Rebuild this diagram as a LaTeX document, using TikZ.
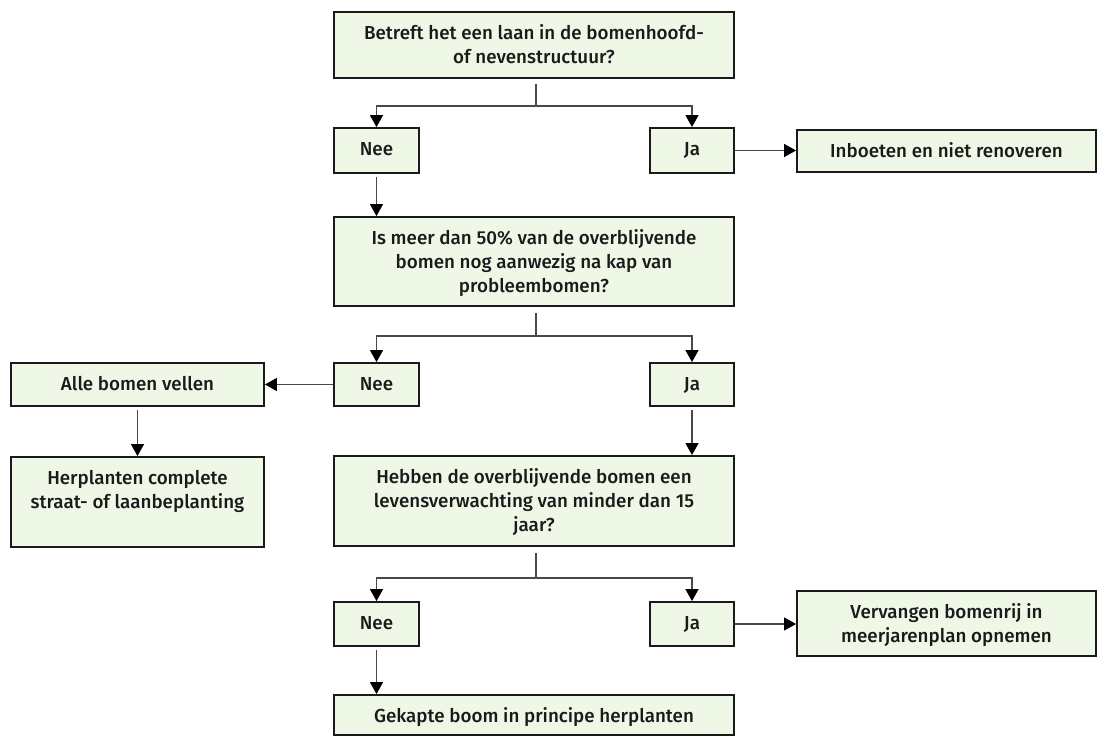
\documentclass[tikz,border=0pt]{standalone}
\usepackage{fontspec}
\setmainfont{Fira Sans}[UprightFont={* Medium}]
\usetikzlibrary{arrows.meta}
\definecolor{boxfill}{HTML}{EFF8E6}
\definecolor{ink}{HTML}{1A1A1A}
\tikzset{
  box/.style={draw=ink, line width=1.8pt, fill=boxfill, inner sep=0pt, text=ink},
  conn/.style={draw=ink!80, line width=1.1pt},
  arr/.style={conn, -{Triangle[length=12pt,width=13pt,color=black]}},
}
\newcommand\mkbox[6]{%
  \node[box] (#1) at ({(#2+#4)/2},{(#3+#5)/2})
    {\parbox[c][\dimexpr#5pt-#3pt\relax][t]{\dimexpr#4pt-#2pt\relax}{\centering
      \fontsize{18.8}{24}\selectfont\rule{0pt}{27pt}#6\par}};}
\begin{document}
\begin{tikzpicture}[x=1pt,y=-1pt]
\useasboundingbox (0,0) rectangle (1098,737);
\mkbox{q1}{334}{12}{734}{78}{Betreft het een laan in de bomenhoofd-\\of nevenstructuur?}
\mkbox{n1}{334}{128}{419}{173}{Nee}
\mkbox{j1}{650}{128}{734}{173}{Ja}
\mkbox{i1}{797}{130}{1096}{172}{Inboeten en niet renoveren}
\mkbox{q2}{334}{217}{734}{306}{Is meer dan 50\% van de overblijvende\\bomen nog aanwezig na kap van\\probleembomen?}
\mkbox{n2}{334}{363}{419}{406}{Nee}
\mkbox{j2}{650}{363}{734}{406}{Ja}
\mkbox{a1}{11}{363}{264}{406}{Alle bomen vellen}
\mkbox{h1}{11}{457}{264}{547}{Herplanten complete\\straat- of laanbeplanting}
\mkbox{q3}{334}{456}{734}{546}{Hebben de overblijvende bomen een\\levensverwachting van minder dan 15\\jaar?}
\mkbox{n3}{334}{602}{419}{646}{Nee}
\mkbox{j3}{650}{602}{734}{646}{Ja}
\mkbox{v1}{797}{591}{1096}{656}{Vervangen bomenrij in\\meerjarenplan opnemen}
\mkbox{g1}{334}{695}{734}{735}{Gekapte boom in principe herplanten}

\coordinate (b1) at (536,106);
\coordinate (b2) at (536,336);
\coordinate (b3) at (536,578);

\draw[conn] (536,84) -- (b1);
\draw[arr] (b1) -| (n1.north);
\draw[arr] (b1) -| (j1.north);
\draw[arr] (j1.east) -- (i1.west |- j1.east);
\draw[arr] ([yshift=-3pt]n1.south) -- (n1.south |- q2.north);

\draw[conn] (536,313) -- (b2);
\draw[arr] (b2) -| (n2.north);
\draw[arr] (b2) -| (j2.north);
\draw[arr] (n2.west) -- (a1.east);
\draw[arr] ([yshift=-3pt]a1.south) -- (h1.north);
\draw[arr] ([yshift=-3pt]j2.south) -- (j2.south |- q3.north);

\draw[conn] (536,553) -- (b3);
\draw[arr] (b3) -| (n3.north);
\draw[arr] (b3) -| (j3.north);
\draw[arr] (j3.east) -- (v1.west |- j3.east);
\draw[arr] ([yshift=-3pt]n3.south) -- (n3.south |- g1.north);
\end{tikzpicture}
\end{document}
